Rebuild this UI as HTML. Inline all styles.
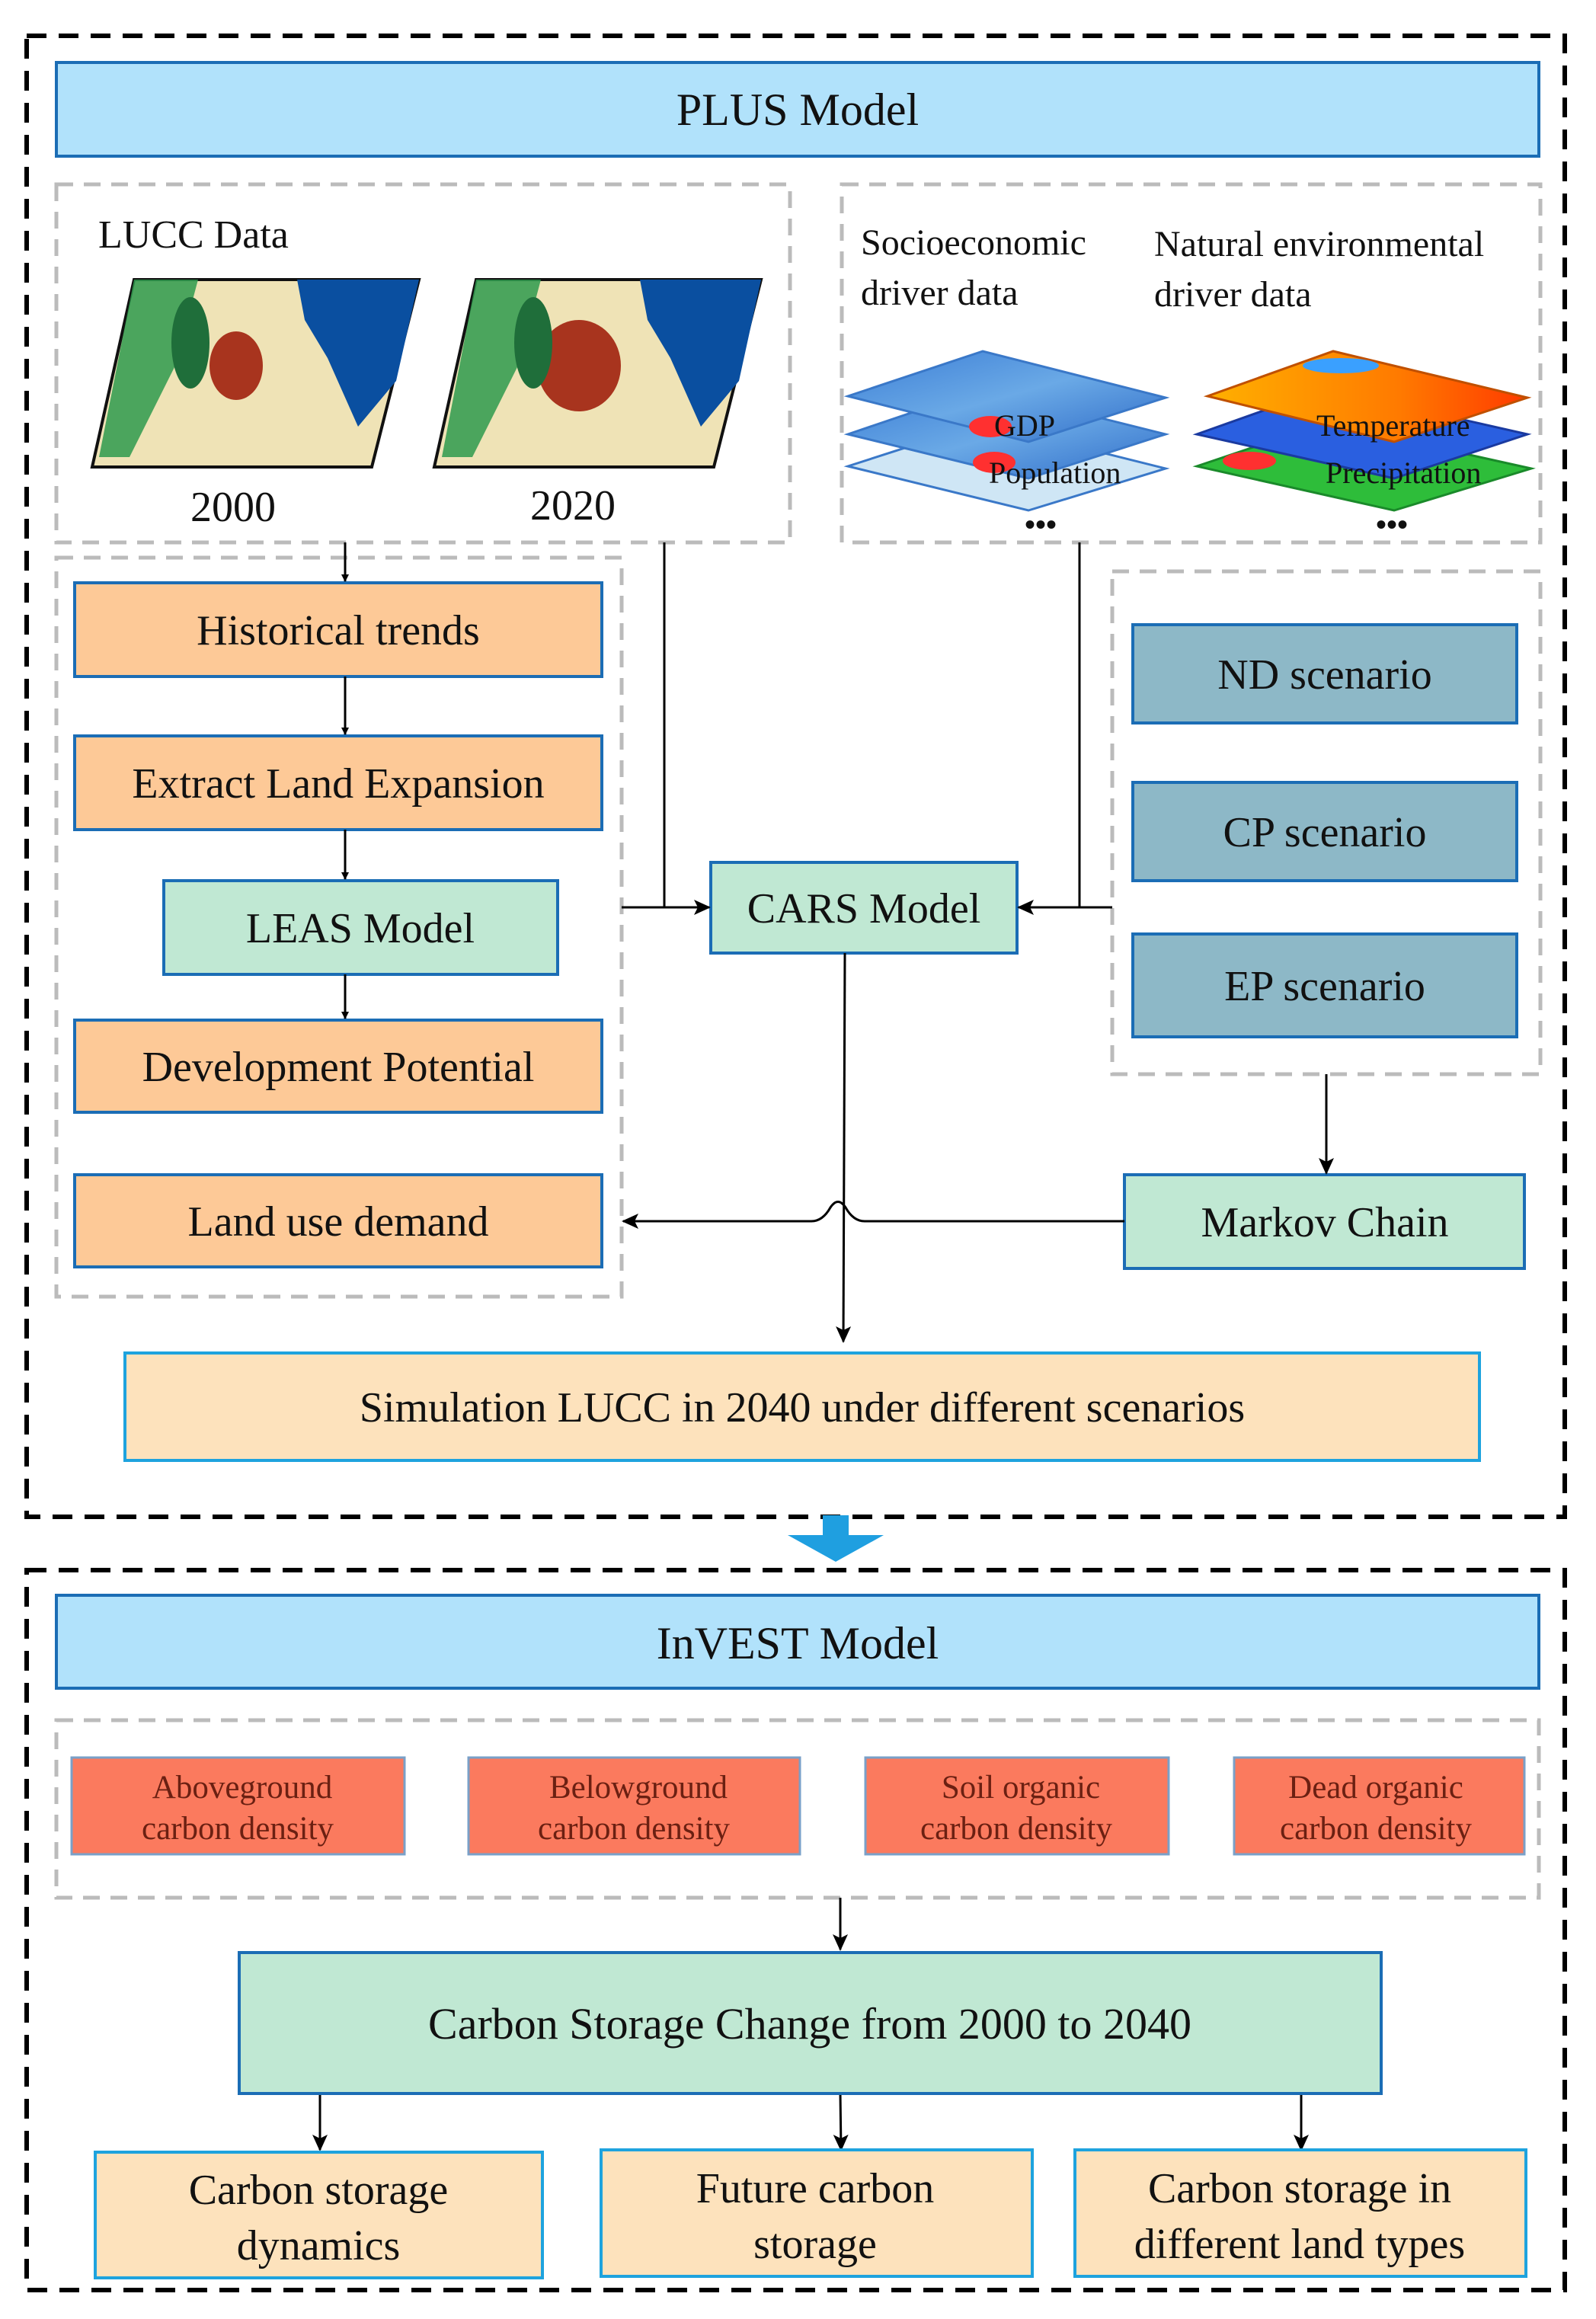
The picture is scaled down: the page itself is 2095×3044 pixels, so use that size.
<!DOCTYPE html>
<html><head><meta charset="utf-8"><style>
html,body{margin:0;padding:0;background:#fff}
svg{display:block}
text{font-family:"Liberation Serif",serif;fill:#111}
</style></head><body>
<svg width="2095" height="3044" viewBox="0 0 2095 3044" xmlns="http://www.w3.org/2000/svg">
<defs>
<marker id="ar" markerWidth="10" markerHeight="10" refX="9" refY="5" orient="auto" markerUnits="userSpaceOnUse"><path d="M0,0 L10,5 L0,10 Z" fill="#000"/></marker>
<marker id="arB" markerWidth="22" markerHeight="20" refX="20" refY="10" orient="auto" markerUnits="userSpaceOnUse"><path d="M0,0 L22,10 L0,20 L5,10 Z" fill="#000"/></marker>
<linearGradient id="gdp" x1="0" y1="0" x2="1" y2="1"><stop offset="0" stop-color="#3d7fd6"/><stop offset="0.5" stop-color="#6aa9e6"/><stop offset="1" stop-color="#2f6cc8"/></linearGradient>
<linearGradient id="tmp" x1="0" y1="0" x2="1" y2="0"><stop offset="0" stop-color="#ffb000"/><stop offset="0.6" stop-color="#ff7a00"/><stop offset="1" stop-color="#ff3a00"/></linearGradient>
</defs>

<!-- outer boxes -->
<rect x="35" y="47" width="2019" height="1944" fill="none" stroke="#000" stroke-width="6" stroke-dasharray="26,16"/>
<rect x="35" y="2061" width="2019" height="945" fill="none" stroke="#000" stroke-width="6" stroke-dasharray="26,16"/>

<!-- PLUS -->
<rect x="74" y="82" width="1946" height="123" fill="#b1e2fb" stroke="#1b6db5" stroke-width="4"/>
<text x="1047" y="164" font-size="60" text-anchor="middle">PLUS Model</text>

<!-- grey dashed boxes -->
<g fill="none" stroke="#bbb" stroke-width="5" stroke-dasharray="22,14">
<rect x="74" y="242" width="963" height="470"/>
<rect x="1105" y="242" width="917" height="470"/>
<rect x="74" y="732" width="742" height="970"/>
<rect x="1460" y="750" width="562" height="660"/>
<rect x="74" y="2258" width="1946" height="233"/>
</g>

<text x="129" y="325" font-size="52">LUCC Data</text>
<!-- maps -->
<g>
<polygon points="176,367 550,367 488,613 121,613" fill="#efe3b6" stroke="#111" stroke-width="4"/>
<polygon points="176,367 260,367 230,480 170,600 130,600" fill="#2e9a4e" opacity="0.85"/>
<polygon points="390,367 550,367 520,500 470,560 430,470 400,420" fill="#0a4fa0"/>
<ellipse cx="310" cy="480" rx="35" ry="45" fill="#a8341e"/>
<ellipse cx="250" cy="450" rx="25" ry="60" fill="#1f6e3a"/>
<polygon points="625,367 999,367 937,613 570,613" fill="#efe3b6" stroke="#111" stroke-width="4"/>
<polygon points="625,367 710,367 680,480 620,600 580,600" fill="#2e9a4e" opacity="0.85"/>
<polygon points="840,367 999,367 970,500 920,560 880,470 850,420" fill="#0a4fa0"/>
<ellipse cx="760" cy="480" rx="55" ry="60" fill="#a8341e"/>
<ellipse cx="700" cy="450" rx="25" ry="60" fill="#1f6e3a"/>
</g>
<text x="306" y="684" font-size="56" text-anchor="middle">2000</text>
<text x="752" y="682" font-size="56" text-anchor="middle">2020</text>

<text x="1130" y="334" font-size="48">Socioeconomic</text>
<text x="1130" y="400" font-size="48">driver data</text>
<text x="1515" y="336" font-size="48">Natural environmental</text>
<text x="1515" y="402" font-size="48">driver data</text>

<!-- layer stacks -->
<polygon points="1113,612 1290,555 1530,615 1350,670" fill="#cfe6f5" stroke="#3a78c8" stroke-width="3"/>
<polygon points="1113,570 1290,510 1530,570 1350,628" fill="url(#gdp)" stroke="#3a78c8" stroke-width="3"/>
<polygon points="1113,520 1290,461 1530,522 1350,580" fill="url(#gdp)" stroke="#3a78c8" stroke-width="3"/>
<ellipse cx="1300" cy="560" rx="28" ry="14" fill="#ff3030"/>
<ellipse cx="1305" cy="607" rx="28" ry="14" fill="#ff3030"/>
<text x="1305" y="572" font-size="40">GDP</text>
<text x="1298" y="634" font-size="40">Population</text>
<polygon points="1571,612 1740,555 2010,615 1830,670" fill="#2ebd3a" stroke="#1a8a2a" stroke-width="3"/>
<polygon points="1571,570 1740,510 2005,570 1830,628" fill="#2a5fe0" stroke="#1a3aa0" stroke-width="3"/>
<polygon points="1585,520 1750,461 2005,522 1830,580" fill="url(#tmp)" stroke="#c05000" stroke-width="3"/>
<ellipse cx="1760" cy="480" rx="50" ry="10" fill="#3aa0ff"/>
<ellipse cx="1640" cy="605" rx="35" ry="12" fill="#ff3030"/>
<text x="1728" y="572" font-size="40">Temperature</text>
<text x="1740" y="634" font-size="40">Precipitation</text>
<text x="1366" y="702" font-size="40" text-anchor="middle" font-weight="bold">•••</text>
<text x="1827" y="702" font-size="40" text-anchor="middle" font-weight="bold">•••</text>

<!-- left column -->
<g stroke="#1b6db5" stroke-width="4">
<rect x="98" y="765" width="692" height="123" fill="#fdc997"/>
<rect x="98" y="966" width="692" height="123" fill="#fdc997"/>
<rect x="215" y="1156" width="517" height="123" fill="#c0e8d3"/>
<rect x="98" y="1339" width="692" height="121" fill="#fdc997"/>
<rect x="98" y="1542" width="692" height="121" fill="#fdc997"/>
<rect x="1487" y="820" width="504" height="129" fill="#8db8c7"/>
<rect x="1487" y="1027" width="504" height="129" fill="#8db8c7"/>
<rect x="1487" y="1226" width="504" height="135" fill="#8db8c7"/>
<rect x="1476" y="1542" width="525" height="123" fill="#c0e8d3"/>
<rect x="933" y="1132" width="402" height="119" fill="#c0e8d3"/>
</g>
<g font-size="56" text-anchor="middle">
<text x="444" y="846">Historical trends</text>
<text x="444" y="1047">Extract Land Expansion</text>
<text x="473" y="1237">LEAS Model</text>
<text x="444" y="1419">Development Potential</text>
<text x="444" y="1622">Land use demand</text>
<text x="1739" y="904">ND scenario</text>
<text x="1739" y="1111">CP scenario</text>
<text x="1739" y="1313">EP scenario</text>
<text x="1739" y="1623">Markov Chain</text>
<text x="1134" y="1211">CARS Model</text>
</g>

<!-- connectors -->
<g stroke="#000" stroke-width="3" fill="none">
<line x1="453" y1="712" x2="453" y2="763" marker-end="url(#ar)"/>
<line x1="453" y1="888" x2="453" y2="964" marker-end="url(#ar)"/>
<line x1="453" y1="1089" x2="453" y2="1154" marker-end="url(#ar)"/>
<line x1="453" y1="1279" x2="453" y2="1337" marker-end="url(#ar)"/>
<polyline points="872,712 872,1191"/>
<line x1="816" y1="1191" x2="931" y2="1191" marker-end="url(#arB)"/>
<polyline points="1417,712 1417,1191"/>
<line x1="1460" y1="1191" x2="1337" y2="1191" marker-end="url(#arB)"/>
<line x1="1741" y1="1410" x2="1741" y2="1540" marker-end="url(#arB)"/>
<line x1="1109" y1="1251" x2="1107" y2="1761" marker-end="url(#arB)"/>
<path d="M1476,1603 L1135,1603 Q1120,1603 1110,1585 Q1100,1570 1090,1585 Q1080,1603 1065,1603 L818,1603" marker-end="url(#arB)"/>
<line x1="1103" y1="2491" x2="1103" y2="2559" marker-end="url(#arB)"/>
<line x1="420" y1="2748" x2="420" y2="2822" marker-end="url(#arB)"/>
<line x1="1103" y1="2748" x2="1104" y2="2822" marker-end="url(#arB)"/>
<line x1="1708" y1="2748" x2="1708" y2="2822" marker-end="url(#arB)"/>
</g>

<!-- simulation -->
<rect x="164" y="1776" width="1778" height="141" fill="#fde2bc" stroke="#1ea3de" stroke-width="4"/>
<text x="1053" y="1866" font-size="56" text-anchor="middle">Simulation LUCC in 2040 under different scenarios</text>

<!-- blue arrow -->
<polygon points="1080,1989 1114,1989 1114,2015 1160,2015 1097,2050 1034,2015 1080,2015" fill="#1f9fe0"/>

<!-- InVEST -->
<rect x="74" y="2094" width="1946" height="122" fill="#b1e2fb" stroke="#1b6db5" stroke-width="4"/>
<text x="1047" y="2177" font-size="60" text-anchor="middle">InVEST Model</text>

<g fill="#fb7a5e" stroke="#7aa0c8" stroke-width="3">
<rect x="94" y="2307" width="437" height="127"/>
<rect x="615" y="2307" width="435" height="127"/>
<rect x="1136" y="2307" width="398" height="127"/>
<rect x="1620" y="2307" width="381" height="127"/>
</g>
<g font-size="43" text-anchor="middle" style="fill:#6b2012">
<text x="318" y="2360" style="fill:#6b2012">Aboveground</text><text x="312" y="2414" style="fill:#6b2012">carbon density</text>
<text x="838" y="2360" style="fill:#6b2012">Belowground</text><text x="832" y="2414" style="fill:#6b2012">carbon density</text>
<text x="1340" y="2360" style="fill:#6b2012">Soil organic</text><text x="1334" y="2414" style="fill:#6b2012">carbon density</text>
<text x="1806" y="2360" style="fill:#6b2012">Dead organic</text><text x="1806" y="2414" style="fill:#6b2012">carbon density</text>
</g>

<rect x="314" y="2563" width="1499" height="185" fill="#c0e8d3" stroke="#1b6db5" stroke-width="4"/>
<text x="1063" y="2676" font-size="58" text-anchor="middle">Carbon Storage Change from 2000 to 2040</text>

<g fill="#fde2bc" stroke="#1ea3de" stroke-width="4">
<rect x="125" y="2825" width="587" height="165"/>
<rect x="789" y="2822" width="566" height="166"/>
<rect x="1411" y="2822" width="592" height="166"/>
</g>
<g font-size="56" text-anchor="middle">
<text x="418" y="2893">Carbon storage</text><text x="418" y="2966">dynamics</text>
<text x="1070" y="2891">Future carbon</text><text x="1070" y="2964">storage</text>
<text x="1706" y="2891">Carbon storage in</text><text x="1706" y="2964">different land types</text>
</g>
</svg>
</body></html>
